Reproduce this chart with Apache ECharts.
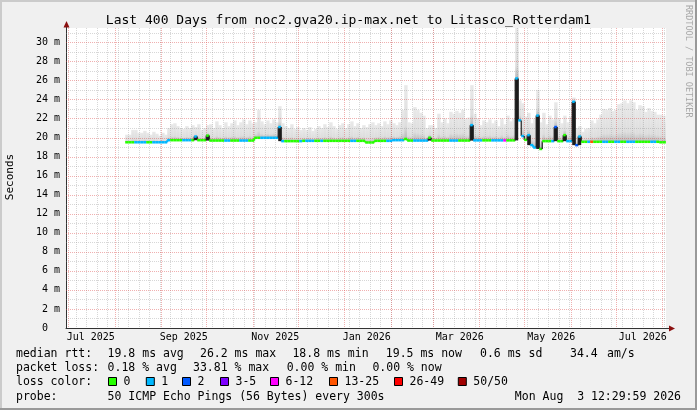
<!DOCTYPE html>
<html><head><meta charset="utf-8">
<script src="https://cdn.jsdelivr.net/npm/echarts@6/dist/echarts.min.js"></script>
<style>html,body{margin:0;padding:0;background:#f0f0f0}#c{width:697px;height:410px}</style>
</head><body><div id="c"></div><script>
const FONT = '"DejaVu Sans Mono", monospace';
const titleText = 'Last 400 Days from noc2.gva20.ip-max.net to Litasco_Rotterdam1';
const rangeStart = '2025-06-29T12:30:00Z';
const rangeEnd = '2026-08-03T12:30:00Z';
const firstSample = '2025-08-08T00:00:00Z';
const sampleStepDays = 2;

const xLabels = ['Jul 2025','Sep 2025','Nov 2025','Jan 2026','Mar 2026','May 2026','Jul 2026'];
const xLabelDates = ['2025-07-16','2025-09-16','2025-11-16','2026-01-16','2026-03-19','2026-05-19','2026-07-19'];

// median RTT in ms, one value per 2-day step
const median = [
 19.5,19.5,19.5,19.5,19.5,19.5,19.5,19.5,19.5,19.5,
 19.5,19.5,19.5,19.5,19.72,19.72,19.72,19.72,19.72,19.72,
 19.72,19.72,19.72,20.1,19.72,19.72,19.72,20.2,19.68,19.68,
 19.68,19.68,19.68,19.68,19.68,19.68,19.68,19.68,19.68,19.68,
 19.68,19.68,19.68,19.97,19.97,19.97,19.97,19.97,19.97,19.97,
 19.97,21.1,19.62,19.62,19.62,19.62,19.62,19.62,19.62,19.65,
 19.65,19.65,19.65,19.65,19.65,19.65,19.65,19.65,19.65,19.65,
 19.65,19.65,19.65,19.65,19.65,19.65,19.65,19.65,19.65,19.65,
 19.48,19.48,19.48,19.65,19.65,19.65,19.65,19.65,19.65,19.72,
 19.72,19.72,19.72,19.85,19.68,19.68,19.68,19.68,19.68,19.68,
 19.68,19.98,19.68,19.68,19.68,19.68,19.68,19.68,19.68,19.68,
 19.68,19.68,19.68,19.68,19.68,21.3,19.7,19.7,19.7,19.7,
 19.7,19.7,19.7,19.7,19.7,19.7,19.7,19.7,19.7,19.7,
 26.2,21.8,20.15,19.75,20.25,19.2,18.95,22.3,18.8,19.62,
 19.62,19.62,19.62,21.1,19.62,19.62,20.25,19.62,19.62,23.75,
 19.2,20.1,19.55,19.55,19.55,19.55,19.55,19.55,19.55,19.55,
 19.55,19.55,19.55,19.55,19.55,19.55,19.55,19.55,19.55,19.55,
 19.55,19.55,19.55,19.55,19.55,19.55,19.55,19.55,19.5,19.5,19.5
];
// top of the ping "smoke" in ms
const smokeTop = [
 20.3,20.3,20.8,20.8,20.5,20.5,20.7,20.5,20.3,20.6,
 20.4,20.2,20.5,20.3,21.0,21.4,21.5,21.2,21.0,20.9,
 21.2,21.0,21.3,21.1,21.4,20.8,21.0,21.3,21.4,21.0,
 21.7,21.3,21.0,21.6,21.2,21.5,21.8,21.3,21.6,21.9,
 21.4,21.8,21.5,21.6,22.9,21.7,21.4,21.8,21.5,21.9,
 21.6,23.3,21.5,21.2,21.0,21.4,20.9,21.1,20.8,21.0,
 20.8,21.1,20.7,20.9,21.2,21.0,21.4,21.1,21.6,21.2,
 20.9,21.3,21.5,21.0,21.4,21.7,21.2,21.5,21.0,21.3,
 21.1,21.4,21.6,21.3,21.5,21.2,21.7,21.4,21.8,21.5,
 21.3,21.6,22.9,25.5,21.6,21.5,23.2,22.9,22.6,22.3,
 21.0,21.3,21.3,21.0,22.5,21.6,22.0,21.5,22.7,22.5,
 22.8,22.6,22.9,22.0,22.1,25.5,22.5,22.0,21.3,21.8,
 21.6,21.9,21.5,21.8,21.2,22.0,21.4,22.3,21.7,22.0,
 31.5,23.9,23.6,22.2,22.6,21.5,22.0,25.0,21.6,22.6,
 21.4,22.3,21.9,23.7,22.0,21.5,22.3,21.6,22.2,24.2,
 21.0,21.2,20.6,20.9,21.0,21.8,21.5,21.9,22.4,23.0,
 22.9,23.1,22.8,22.9,23.5,23.6,23.9,23.6,23.9,23.7,
 22.9,23.4,23.3,22.7,23.1,22.8,22.7,22.4,22.4,22.3,21.6
];
// loss class index per step (0 = "0", 1 = "1", 2 = "2", 3 = "3-5", 4 = "6-12", 5 = "13-25", 6 = "26-49", 7 = "50/50")
const lossIdx = [
 0,0,0,1,1,1,1,0,0,1,
 1,1,1,1,1,0,0,0,0,1,
 1,1,0,1,0,0,0,0,0,0,
 0,0,0,1,1,0,0,0,1,1,
 1,0,0,0,0,1,1,1,1,1,
 1,1,1,0,0,0,0,0,1,0,
 1,1,1,0,0,1,0,0,0,0,
 0,0,0,0,0,1,1,0,0,0,
 0,0,0,0,0,0,0,1,1,1,
 1,1,1,0,0,0,1,1,1,1,
 1,0,0,0,0,0,0,0,1,1,
 1,0,0,0,0,1,1,1,1,0,
 0,0,1,1,1,1,4,0,0,0,
 1,1,1,0,1,1,1,1,0,0,
 0,0,1,2,0,0,0,1,1,1,
 2,1,0,0,1,5,0,0,0,1,
 1,0,0,1,1,0,0,1,1,1,
 0,0,0,0,0,1,1,0,0,0,0
];
const lossLabels = ['0','1','2','3-5','6-12','13-25','26-49','50/50'];
const lossColors = ['#26ff00','#00b8ff','#0059ff','#7e00ff','#ff00ff','#ff5500','#ff0000','#a10000'];

const rttLegend = ['19.8 ms avg','26.2 ms max','18.8 ms min','19.5 ms now','0.6 ms sd','34.4','am/s'];
const lossLegend = ['0.18 % avg','33.81 % max','0.00 % min','0.00 % now'];
const probeText = '50 ICMP Echo Pings (56 Bytes) every 300s';
const dateText = 'Mon Aug  3 12:29:59 2026';

// ---- derived ----
const DAY = 86400000;
const startMs = Date.parse(rangeStart), endMs = Date.parse(rangeEnd);
const firstMs = Date.parse(firstSample);
const xLabelTimes = xLabelDates.map(d => Date.parse(d + 'T00:00:00Z'));

const medianData = median.map((v, k) => {
  const t0 = firstMs + k * sampleStepDays * DAY;
  const t1 = Math.min(t0 + sampleStepDays * DAY, endMs);
  return [t0, v, t1, k > 0 ? median[k - 1] : v, lossIdx[k], k < median.length - 1 ? median[k + 1] : v];
});
const smokeData = median.map((v, k) => {
  const t0 = firstMs + k * sampleStepDays * DAY;
  const t1 = Math.min(t0 + sampleStepDays * DAY, endMs);
  return [t0, t1, v, smokeTop[k]];
});

// grid lines: month starts (major), Sundays (minor), 1 m / 2 m horizontals
const monthStarts = [];
for (let y = 2025, m = 6; Date.UTC(y, m, 1) <= endMs; m++) {
  if (m > 11) { m = 0; y++; }
  monthStarts.push([Date.UTC(y, m, 1), 0]);
}
const sundays = [];
for (let t = Date.UTC(2025, 6, 6); t <= endMs; t += 7 * DAY) sundays.push([t, 0]);
const yMinor = [], yMajor = [];
for (let v = 1; v <= 31; v++) (v % 2 === 0 ? yMajor : yMinor).push([startMs, v]);

const MINOR = 'rgba(143,143,143,0.36)';
const MAJOR = 'rgba(222,80,80,0.45)';

function vLine(color) {
  return function (params, api) {
    const cs = params.coordSys;
    const x = Math.round(api.coord([api.value(0), 0])[0]) + 0.5;
    return { type: 'line', shape: { x1: x, y1: cs.y, x2: x, y2: cs.y + cs.height },
      style: { stroke: color, lineWidth: 1, lineDash: [1, 1] } };
  };
}
function hLine(color) {
  return function (params, api) {
    const cs = params.coordSys;
    const y = Math.round(api.coord([startMs, api.value(1)])[1]) + 0.5;
    return { type: 'line', shape: { x1: cs.x, y1: y, x2: cs.x + cs.width, y2: y },
      style: { stroke: color, lineWidth: 1, lineDash: [1, 1] } };
  };
}
const smokeFill = { type: 'linear', x: 0, y: 0, x2: 0, y2: 1, colorStops: [
  { offset: 0, color: '#e9e9e9' }, { offset: 0.75, color: '#dddddd' }, { offset: 1, color: '#b8b8b8' } ] };

function renderSmoke(params, api) {
  const a = api.coord([api.value(0), api.value(3)]);
  const b = api.coord([api.value(1), api.value(2)]);
  return { type: 'rect', shape: { x: a[0], y: a[1], width: b[0] - a[0] + 0.4, height: b[1] - a[1] },
    style: { fill: smokeFill } };
}
function renderMedian(params, api) {
  const t0 = api.value(0), v = api.value(1), t1 = api.value(2), vp = api.value(3), li = api.value(4), vn = api.value(5);
  const p0 = api.coord([t0, v]), p1 = api.coord([t1, v]);
  const col = lossColors[li];
  const ch = [];
  if (params.dataIndex > 0 && v - Math.max(vp, vn) > 0.3) {
    const base = api.coord([t0, Math.min(vp, vn)]);
    ch.push({ type: 'rect', shape: { x: p0[0], y: p0[1], width: p1[0] - p0[0], height: base[1] - p0[1] },
      style: { fill: '#1c1c1c' } });
  }
  if (params.dataIndex > 0 && vp !== v) {
    const pp = api.coord([t0, vp]);
    const big = Math.abs(v - vp) > 0.3;
    ch.push({ type: 'line', shape: { x1: p0[0], y1: pp[1], x2: p0[0], y2: p0[1] },
      style: { stroke: big ? '#1c1c1c' : col, lineWidth: big ? 1.2 : 2 } });
  }
  ch.push({ type: 'line', shape: { x1: p0[0], y1: p0[1], x2: p1[0], y2: p1[1] },
    style: { stroke: col, lineWidth: 2.5 } });
  return { type: 'group', children: ch };
}

// ---- legend graphics ----
const TXT = { font: '11.5px ' + FONT, fill: '#000', textVerticalAlign: 'middle' };
function t(x, y, s, extra) { return { type: 'text', x, y, silent: true, style: Object.assign({ text: s }, TXT, extra || {}) }; }
const g = [];
// frame
g.push({ type: 'rect', shape: { x: 0, y: 0, width: 697, height: 2 }, style: { fill: '#cbcbcb' }, silent: true });
g.push({ type: 'rect', shape: { x: 0, y: 0, width: 2, height: 410 }, style: { fill: '#cbcbcb' }, silent: true });
g.push({ type: 'rect', shape: { x: 0, y: 408, width: 697, height: 2 }, style: { fill: '#999999' }, silent: true });
g.push({ type: 'rect', shape: { x: 695, y: 0, width: 2, height: 410 }, style: { fill: '#999999' }, silent: true });
// axis arrows
g.push({ type: 'line', shape: { x1: 66.5, y1: 28, x2: 66.5, y2: 25 }, style: { stroke: '#333', lineWidth: 1 }, silent: true });
g.push({ type: 'polygon', shape: { points: [[63.5, 27.5], [66.5, 21], [69.5, 27.5]] }, style: { fill: '#8b1010' }, silent: true });
g.push({ type: 'line', shape: { x1: 666, y1: 328.5, x2: 670, y2: 328.5 }, style: { stroke: '#333', lineWidth: 1 }, silent: true });
g.push({ type: 'polygon', shape: { points: [[669, 325.5], [675, 328.5], [669, 331.5]] }, style: { fill: '#8b1010' }, silent: true });
// watermark and axis title
g.push({ type: 'text', x: 688, y: 5, rotation: -Math.PI / 2, silent: true,
  style: { text: 'RRDTOOL / TOBI OETIKER', font: '8.5px ' + FONT, fill: '#a8a8a8', textAlign: 'left', textVerticalAlign: 'middle' } });
g.push({ type: 'text', x: 10, y: 177, rotation: Math.PI / 2, silent: true,
  style: { text: 'Seconds', font: '11px ' + FONT, fill: '#000', textAlign: 'center', textVerticalAlign: 'middle' } });
// row 1
const rttX = [107.6, 200, 292.4, 385.8, 480, 570, 607];
g.push(t(16, 354, 'median rtt:'));
rttLegend.forEach((s, i) => g.push(t(rttX[i], 354, s)));
// row 2
const lossX = [107.6, 193, 286.7, 372.4];
g.push(t(16, 368, 'packet loss:'));
lossLegend.forEach((s, i) => g.push(t(lossX[i], 368, s)));
// row 3
const boxX = [108, 145.8, 182, 220, 270, 329, 394, 457.8];
g.push(t(16, 382, 'loss color:'));
lossLabels.forEach((s, i) => {
  g.push({ type: 'rect', silent: true, shape: { x: boxX[i] + 0.5, y: 377.5, width: 8, height: 8 },
    style: { fill: lossColors[i], stroke: '#000', lineWidth: 1 } });
  g.push(t(boxX[i] + 15.5, 382, s));
});
// row 4
g.push(t(16, 397, 'probe:'));
g.push(t(107.6, 397, probeText));
g.push(t(681, 397, dateText, { textAlign: 'right' }));

const chart = echarts.init(document.getElementById('c'), null, { renderer: 'canvas' });
chart.setOption({
  animation: false,
  backgroundColor: '#f0f0f0',
  title: { text: titleText, left: 'center', top: 14, padding: 0,
    textStyle: { fontFamily: FONT, fontSize: 13, fontWeight: 'normal', color: '#000', lineHeight: 14 } },
  grid: { left: 66, top: 28, width: 600, height: 300, show: true, backgroundColor: '#ffffff', borderWidth: 0, containLabel: false },
  xAxis: {
    type: 'value', min: startMs, max: endMs,
    axisLine: { show: true, onZero: false, lineStyle: { color: '#333', width: 1 } },
    axisTick: { show: false }, splitLine: { show: false },
    axisLabel: {
      customValues: xLabelTimes, margin: 4, color: '#000', fontFamily: FONT, fontSize: 10,
      formatter: v => { let i = xLabelTimes.findIndex(x => Math.abs(x - v) < 1000); return i >= 0 ? xLabels[i] : ''; }
    }
  },
  yAxis: {
    type: 'value', min: 0, max: 31.5, interval: 2,
    axisLine: { show: true, lineStyle: { color: '#333', width: 1 } },
    axisTick: { show: false }, splitLine: { show: false },
    axisLabel: { margin: 6, color: '#000', fontFamily: FONT, fontSize: 10, showMaxLabel: false,
      formatter: v => (v > 30.5 ? '' : (v === 0 ? '0  ' : v + ' m')) }
  },
  graphic: { elements: g },
  series: [
    { type: 'custom', name: 'smoke', z: 2, silent: true, clip: true, renderItem: renderSmoke,
      encode: { x: [0, 1], y: [2, 3] }, data: smokeData },
    { type: 'custom', name: 'minorV', z: 3, silent: true, renderItem: vLine(MINOR), data: sundays },
    { type: 'custom', name: 'minorH', z: 3, silent: true, renderItem: hLine(MINOR), data: yMinor },
    { type: 'custom', name: 'majorV', z: 3, silent: true, renderItem: vLine(MAJOR), data: monthStarts },
    { type: 'custom', name: 'majorH', z: 3, silent: true, renderItem: hLine(MAJOR), data: yMajor },
    { type: 'custom', name: 'median', z: 4, silent: true, clip: true, renderItem: renderMedian,
      encode: { x: [0, 2], y: [1, 3] }, data: medianData }
  ]
});
</script></body></html>
